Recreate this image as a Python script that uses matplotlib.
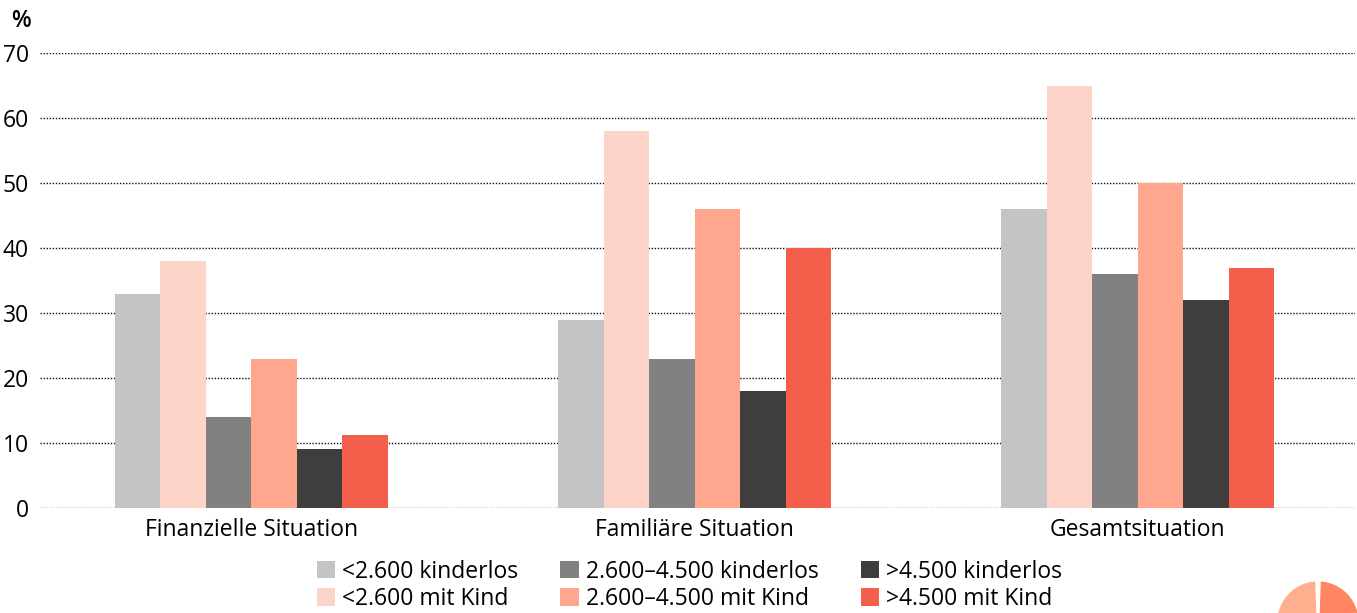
import matplotlib
matplotlib.use('Agg')
import matplotlib.pyplot as plt
from matplotlib.patches import Wedge
import numpy as np

# data
categories = ["Finanzielle Situation", "Familiäre Situation", "Gesamtsituation"]
series_labels = ["<2.600 kinderlos", "<2.600 mit Kind",
                 "2.600\u20134.500 kinderlos", "2.600\u20134.500 mit Kind",
                 ">4.500 kinderlos", ">4.500 mit Kind"]
low_ohne = [33, 29, 46]
low_mit = [38, 58, 65]
mid_ohne = [14, 23, 36]
mid_mit = [23, 46, 50]
high_ohne = [9, 18, 32]
high_mit = [11.3, 40, 37]
yticks = [0, 10, 20, 30, 40, 50, 60, 70]

colors = ["#C4C4C4", "#FDD5C8", "#818181", "#FEA78E", "#3F3E3C", "#F45F4C"]
series = [low_ohne, low_mit, mid_ohne, mid_mit, high_ohne, high_mit]

plt.rcParams['font.family'] = ['Open Sans', 'DejaVu Sans']

fig = plt.figure(figsize=(13.57, 6.13), dpi=100)
ax = fig.add_axes([0.0295, 0.1713, 0.969, 0.7422])

x = np.arange(len(categories))
w = 0.1027
for i, (vals, col, lab) in enumerate(zip(series, colors, series_labels)):
    ax.bar(x + (i - 2.5) * w, vals, width=w, color=col, label=lab,
           linewidth=0, zorder=2)

ax.set_xlim(-0.477, 2.49)
ax.set_ylim(0, 70)
ax.set_yticks(yticks)
ax.set_xticks(x)
ax.set_xticklabels(categories, fontsize=16.5)
ax.tick_params(axis='y', labelsize=16.5, length=0, pad=8)
ax.tick_params(axis='x', length=0, pad=7)
ax.yaxis.grid(True, linestyle=(0, (1, 1.2)), color='#111111', linewidth=1.0)
ax.set_axisbelow(True)
for s in ax.spines.values():
    s.set_visible(False)

fig.text(0.0155, 0.965, "%", fontsize=16.5, ha='center', va='center',
         fontweight='semibold')

leg = fig.legend(ncol=3, loc='center', bbox_to_anchor=(0.508, 0.045),
                 frameon=False, fontsize=16.5, handlelength=0.8, handleheight=0.8,
                 handletextpad=0.3, columnspacing=1.85, labelspacing=0.15)

# logo fragment bottom right
fig_ax = fig.add_axes([0, 0, 1, 1], zorder=-1)
fig_ax.set_xlim(0, 1357)
fig_ax.set_ylim(613, 0)
fig_ax.axis('off')
fig_ax.add_patch(Wedge((1318, 622), 42, 180, 268, facecolor="#FFAE8E", edgecolor='white', linewidth=2))
fig_ax.add_patch(Wedge((1318, 622), 42, 272, 360, facecolor="#FF8660", edgecolor='white', linewidth=2))

fig.savefig("out.png", dpi=100)
